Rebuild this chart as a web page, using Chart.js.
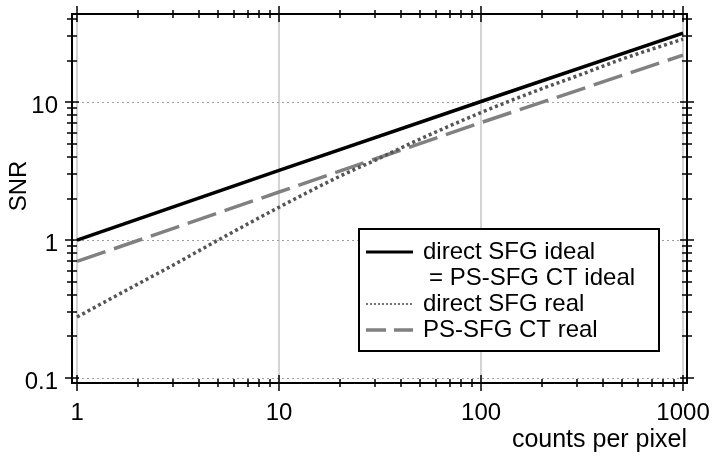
<!DOCTYPE html>
<html>
<head>
<meta charset="utf-8">
<title>SNR vs counts per pixel</title>
<script src="https://cdn.jsdelivr.net/npm/chart.js@4.4.1/dist/chart.umd.min.js"></script>
<style>
    html, body { margin: 0; padding: 0; background: #fff; }
    #wrap { width: 715px; height: 464px; }
</style>
</head>
<body>
<div id="wrap"><canvas id="snrChart" width="715" height="464"></canvas></div>
<script>
// values
const idealCounts = [1, 10, 100, 1000];
const idealSnr = [1.0, 3.2, 10.1, 31.6];

const directCounts = [1, 2, 3, 5, 10, 20, 30, 50, 100, 200, 300, 500, 1000];
const directRealSnr = [0.277, 0.48, 0.66, 1.0, 1.73, 2.9, 3.8, 5.4, 8.4, 12.5, 15.5, 20.5, 28.6];

const ctCounts = [1, 10, 100, 1000];
const ctRealSnr = [0.70, 2.23, 7.1, 21.9];

const seriesNames = ['direct SFG ideal\n= PS-SFG CT ideal', 'direct SFG real', 'PS-SFG CT real'];

// axis ticks
const xMajor = [1, 10, 100, 1000];
const yMajor = [0.1, 1, 10];
const xTitle = 'counts per pixel';
const yTitle = 'SNR';

const FONT = "'Liberation Sans', Arial, sans-serif";

function toPoints(xs, ys) {
    return xs.map((x, i) => ({ x: x, y: ys[i] }));
}

// minor ticks 2..9 in every decade between min and max
function minorTicks(min, max) {
    const out = [];
    for (let d = Math.floor(Math.log10(min)); d <= Math.ceil(Math.log10(max)); d++) {
        for (let m = 2; m <= 9; m++) {
            const v = m * Math.pow(10, d);
            if (v >= min && v <= max) out.push(v);
        }
    }
    return out;
}

const framePlugin = {
    id: 'frame',
    beforeDatasetsDraw(chart) {
        const { ctx, chartArea: a, scales } = chart;
        ctx.save();
        // vertical grid (solid light gray)
        ctx.strokeStyle = '#d4d4d4';
        ctx.lineWidth = 2;
        xMajor.forEach(v => {
            const px = Math.round(scales.x.getPixelForValue(v));
            ctx.beginPath();
            ctx.moveTo(px, a.top);
            ctx.lineTo(px, a.bottom);
            ctx.stroke();
        });
        // horizontal grid (dotted gray)
        ctx.strokeStyle = '#a0a0a0';
        ctx.lineWidth = 1;
        ctx.setLineDash([2, 3]);
        yMajor.forEach(v => {
            const py = Math.round(scales.y.getPixelForValue(v)) + 0.5;
            ctx.beginPath();
            ctx.moveTo(a.left, py);
            ctx.lineTo(a.right, py);
            ctx.stroke();
        });
        ctx.restore();
    },
    afterDatasetsDraw(chart) {
        const { ctx, chartArea: a, scales } = chart;
        ctx.save();

        // legend box
        const box = { left: 359, top: 229, right: 659, bottom: 351 };
        ctx.fillStyle = '#fff';
        ctx.fillRect(box.left, box.top, box.right - box.left, box.bottom - box.top);
        ctx.strokeStyle = '#000';
        ctx.lineWidth = 2;
        ctx.strokeRect(box.left, box.top, box.right - box.left, box.bottom - box.top);

        ctx.font = '24px ' + FONT;
        ctx.textBaseline = 'middle';
        ctx.fillStyle = '#000';
        const legendDash = [[], [2, 2], [20, 8]];
        const legendWidth = [3, 2, 3.5];
        const legendColor = ['#000', '#777', '#808080'];
        let y = 252;
        chart.data.datasets.forEach((ds, i) => {
            ctx.strokeStyle = legendColor[i];
            ctx.lineWidth = legendWidth[i];
            ctx.setLineDash(legendDash[i]);
            ctx.beginPath();
            ctx.moveTo(366, y);
            ctx.lineTo(413, y);
            ctx.stroke();
            ctx.setLineDash([]);
            ds.label.split('\n').forEach((line, j) => {
                ctx.fillText(line, j === 0 ? 423 : 429, y);
                y += 26;
            });
        });

        // y axis title, a bit above the centre like the original
        ctx.save();
        ctx.translate(19, 186);
        ctx.rotate(-Math.PI / 2);
        ctx.textAlign = 'center';
        ctx.textBaseline = 'middle';
        ctx.fillText(yTitle, 0, 0);
        ctx.restore();

        // axes frame
        ctx.strokeStyle = '#000';
        ctx.lineWidth = 2;
        ctx.strokeRect(a.left, a.top, a.right - a.left, a.bottom - a.top);

        // tick marks crossing the frame on all four sides
        const xs = scales.x, ys = scales.y;
        const tickX = (vals, len) => vals.forEach(v => {
            const px = Math.round(xs.getPixelForValue(v));
            [a.top, a.bottom].forEach(edge => {
                ctx.beginPath();
                ctx.moveTo(px, edge - len);
                ctx.lineTo(px, edge + len);
                ctx.stroke();
            });
        });
        const tickY = (vals, len) => vals.forEach(v => {
            const py = Math.round(ys.getPixelForValue(v));
            [a.left, a.right].forEach(edge => {
                ctx.beginPath();
                ctx.moveTo(edge - len, py);
                ctx.lineTo(edge + len, py);
                ctx.stroke();
            });
        });
        ctx.lineWidth = 1.5;
        tickX(xMajor, 8);
        tickX(minorTicks(xs.min, xs.max), 4);
        tickY(yMajor, 7);
        tickY(minorTicks(ys.min, ys.max), 5);
        ctx.restore();
    }
};

const ctx = document.getElementById('snrChart').getContext('2d');
const snrChart = new Chart(ctx, {
    type: 'line',
    data: {
        datasets: [
            {
                label: seriesNames[0],
                data: toPoints(idealCounts, idealSnr),
                borderColor: '#000000',
                borderWidth: 3.5,
                pointRadius: 0,
                fill: false
            },
            {
                label: seriesNames[1],
                data: toPoints(directCounts, directRealSnr),
                borderColor: '#555555',
                borderWidth: 3.5,
                borderDash: [3, 3],
                borderCapStyle: 'butt',
                cubicInterpolationMode: 'monotone',
                pointRadius: 0,
                fill: false
            },
            {
                label: seriesNames[2],
                data: toPoints(ctCounts, ctRealSnr),
                borderColor: '#808080',
                borderWidth: 3.5,
                borderDash: [30, 9],
                pointRadius: 0,
                fill: false
            }
        ]
    },
    options: {
        responsive: false,
        animation: false,
        devicePixelRatio: 1,
        layout: { padding: { top: 14, right: 28, left: 0, bottom: 0 } },
        plugins: {
            legend: { display: false },
            tooltip: { enabled: false }
        },
        scales: {
            x: {
                type: 'logarithmic',
                min: 0.944,
                max: 1046,
                grid: { display: false, drawTicks: false },
                border: { display: false },
                afterBuildTicks: (scale) => { scale.ticks = xMajor.map(v => ({ value: v })); },
                afterFit: (scale) => {
                    scale.height = 81;
                    scale.paddingLeft = 0;
                    scale.paddingRight = 0;
                },
                ticks: {
                    autoSkip: false,
                    maxRotation: 0,
                    padding: 16,
                    color: '#000',
                    font: { family: FONT, size: 24 },
                    callback: (v) => String(v)
                },
                title: {
                    display: true,
                    text: xTitle,
                    align: 'end',
                    color: '#000',
                    font: { family: FONT, size: 25 },
                    padding: { top: 0, bottom: 9 }
                }
            },
            y: {
                type: 'logarithmic',
                min: 0.092,
                max: 43.5,
                grid: { display: false, drawTicks: false },
                border: { display: false },
                afterBuildTicks: (scale) => { scale.ticks = yMajor.map(v => ({ value: v })); },
                afterFit: (scale) => {
                    scale.width = 72;
                    scale.paddingTop = 0;
                    scale.paddingBottom = 0;
                },
                ticks: {
                    autoSkip: false,
                    padding: 14,
                    labelOffset: 4,
                    color: '#000',
                    font: { family: FONT, size: 24 },
                    callback: (v) => String(v)
                },
                title: { display: false, text: yTitle }
            }
        }
    },
    plugins: [framePlugin]
});
</script>
</body>
</html>
